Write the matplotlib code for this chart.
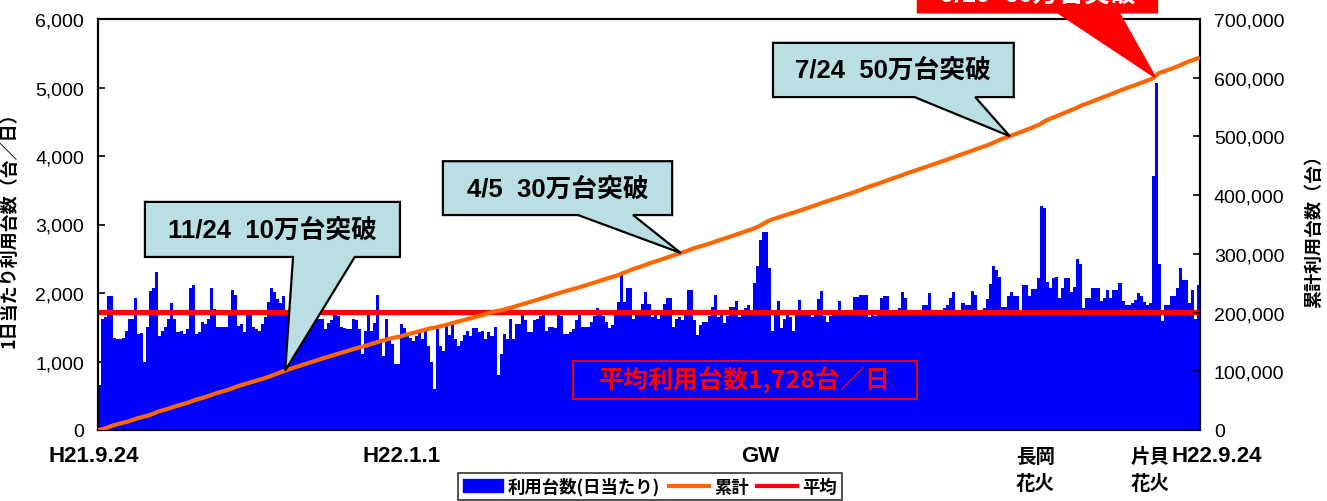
import numpy as np
import matplotlib
matplotlib.use("Agg")
import matplotlib.pyplot as plt
from matplotlib.patches import Polygon, Rectangle, Patch
from matplotlib.lines import Line2D
from matplotlib.ticker import FuncFormatter, MultipleLocator
from matplotlib.transforms import blended_transform_factory

# ---------------- data (daily bicycle usage, H21.9.24 -> H22.9.24) ----------------
seg_autumn = [657, 1620, 1650, 1960, 1960, 1350, 1330, 1330, 1350, 1450,
              1620, 1620, 1920, 1400, 1415, 1000, 1510, 2030, 2080, 2300,
              1370, 1450, 1510, 1620, 1850, 1620, 1435, 1450, 1400, 1475,
              2070, 2115, 1400, 1425, 1570, 1545, 1620, 2070, 1765, 1500,
              1510, 1510, 1510, 1740, 2050, 1970, 1520, 1545, 1425, 1690,
              1690, 1500, 1475, 1450, 1545, 1645, 1865, 2070, 2010, 1910,
              1850, 1950, 1700, 1650, 1600, 1750, 1680, 1620, 1700, 1650,
              1600, 1680, 1700,
              1620, 1620, 1475, 1560, 1600, 1690, 1670, 1500, 1485, 1475,
              1475, 1620, 1600, 1475, 1110, 1450, 1690, 1450, 1560, 1970,
              1300, 1075, 1620, 1330, 1255, 960, 960, 1545, 1485, 1380,
              1350, 1300, 1370, 1450, 1330, 1450, 1230, 990, 600, 1475,
              1230, 1160, 1545]
seg_spring = [1385, 1545, 1330, 1230, 1300, 1385, 1450,
              1370, 1485, 1485, 1435, 1450, 1330, 1425, 1370, 1510, 800,
              1110, 1400, 1330, 1620, 1330, 1545, 1545, 1690, 1600, 1425,
              1425, 1600, 1620, 1670, 1690, 1450, 1500, 1500, 1485,
              1690, 1670, 1400, 1400, 1425, 1475, 1600, 1690, 1500,
              1500, 1510, 1570, 1670, 1775, 1720, 1670, 1570, 1485,
              1530, 1710, 1865, 2290, 1865, 2080, 2080, 1620, 1720, 1720,
              1840, 2020, 1840, 1645, 1720, 1620, 1720, 1840, 1920,
              1920, 1500, 1620, 1645, 1600, 1720, 2040, 2040, 1600, 1385,
              1530, 1570, 1570, 1670, 1800, 1970, 1645, 1720, 1560, 1670,
              1800, 1800, 1890, 1645, 1690, 1775, 1825, 1720,
              2145, 2400, 2780, 2895, 2895, 2360,
              1450, 1690, 1890, 1485, 1620, 1740, 1645, 1450, 1720, 1900,
              1690, 1690, 1690, 1645, 1680, 1910, 2035, 1670, 1570, 1670,
              1710, 1710, 1890, 1690, 1690, 1690, 1720, 1935, 1935, 1970,
              1970, 1970, 1645, 1690, 1670, 1690, 1920, 1950, 1950, 1690,
              1690, 1720, 1775]
seg_summer = [2010, 1920, 1700, 1720, 1690, 1710, 1700, 1825, 1825, 2000,
              1700, 1690, 1710, 1700, 1775, 1825, 1920, 2010, 1710, 1700,
              1850, 1825, 1825, 2035, 1970, 1710, 1690, 1775, 1910, 2130,
              2390, 2340, 2230, 1800, 1800, 1960, 2010, 1960, 1960, 1750,
              2115, 2115, 1960, 2060, 2060, 2215,
              3270, 3240,
              2155, 2068, 2214, 2229, 1922, 2068, 2214, 2214, 2019, 2083,
              2496, 2423, 1776, 1922, 1922, 2068, 2068, 2068, 1888, 1922,
              2049, 1922, 2049, 2049, 2146, 1888, 1825, 1825, 1854, 1903,
              2000, 1951, 1873, 1825, 1854,
              3713, 5065, 2423,
              1596, 1825, 1825, 1951, 1951, 2068, 2360, 2195, 2195, 1854,
              2049, 1620, 2117]
daily = np.array(seg_autumn + seg_spring + seg_summer, dtype=float)
average = 1728

milestones = [100000, 300000, 500000, 600000]
milestone_texts = ["11/24  10万台突破", "4/5  30万台突破", "7/24  50万台突破", "9/10  60万台突破"]

x_labels = ["H21.9.24", "H22.1.1", "GW", "長岡", "片貝", "H22.9.24"]
x_label_days = [-2, 100, 219, 310, 348, 370]
second_line = {"長岡": "花火", "片貝": "花火"}

legend_labels = ["利用台数(日当たり)", "累計", "平均"]

# ---------------- styling ----------------
CJK = "Noto Sans CJK JP"
NARROW = ["Liberation Sans Narrow", "Liberation Sans", CJK]
plt.rcParams["font.family"] = ["Liberation Sans", CJK, "DejaVu Sans"]

BLUE = "#0000FF"
ORANGE = "#FF6600"
RED = "#FF0000"
CALLOUT = "#B9DFE3"

W, H = 1327, 502
fig = plt.figure(figsize=(W / 100, H / 100), dpi=100)
ax = fig.add_axes([98 / W, 1 - 431 / H, 1102 / W, 411 / H])
ax2 = ax.twinx()

n = len(daily)
days = np.arange(n)
cum = np.cumsum(daily)

ax.bar(days, daily, width=1.0, color=BLUE, linewidth=0, antialiased=False, zorder=2)
ax.axhline(average, color=RED, lw=3.8, zorder=3)

cum_x = np.concatenate([[-0.5], days + 0.5])
cum_y = np.concatenate([[0], cum])
ax2.plot(cum_x, cum_y, color=ORANGE, lw=3.0, zorder=4, solid_capstyle="butt")

ax.set_xlim(-0.5, n - 0.5)
ax.set_ylim(0, 6000)
ax2.set_ylim(0, 700000)
ax.set_xticks([])
ax.yaxis.set_major_locator(MultipleLocator(1000))
ax2.yaxis.set_major_locator(MultipleLocator(100000))
fmt = FuncFormatter(lambda v, p: f"{int(v):,}")
ax.yaxis.set_major_formatter(fmt)
ax2.yaxis.set_major_formatter(fmt)
for a in (ax, ax2):
    a.tick_params(axis="y", direction="in", length=5, width=1.2, labelsize=14, pad=10)
    for s in a.spines.values():
        s.set_linewidth(1.5)
        s.set_color("black")

ax.set_ylabel("1日当たり利用台数（台／日）", family=CJK, fontweight="bold", fontsize=13)
ax.yaxis.set_label_coords(-80 / 1102, 0.5)
ax2.set_ylabel("累計利用台数（台）", family=CJK, fontweight="bold", fontsize=13, rotation=90)
ax2.yaxis.set_label_coords(1 + 104 / 1102, (431 - 227) / 411)

# x labels
tr = blended_transform_factory(ax.transData, ax.transAxes)
for lab, d in zip(x_labels, x_label_days):
    is_cjk = lab in second_line
    fam = CJK if is_cjk else NARROW
    fs = 14 if is_cjk else 16
    ax.text(d, (431 - 457) / 411, lab, transform=tr, ha="center", va="center",
            family=fam, fontweight="bold", fontsize=fs, clip_on=False)
    if is_cjk:
        ax.text(d, (431 - 485) / 411, second_line[lab], transform=tr, ha="center",
                va="center", family=CJK, fontweight="bold", fontsize=14, clip_on=False)

# average text box
ax2.add_patch(Rectangle((0.431, 0.0755), 0.312, 0.0925, transform=ax2.transAxes,
                        fill=False, edgecolor=RED, lw=1.3, zorder=6))
ax2.text(0.587, 0.122, f"平均利用台数{average:,}台／日", transform=ax2.transAxes,
         ha="center", va="center", color=RED, family=CJK, fontweight="bold",
         fontsize=18, zorder=7)

# callouts
boxes = [(0.0426, 0.274, 0.421, 0.555), (0.313, 0.521, 0.523, 0.654),
         (0.6125, 0.831, 0.810, 0.942), (0.744, 0.961, 1.016, 1.20)]
bases = [(0.177, 0.233), (0.4356, 0.4855), (0.741, 0.796), (0.871, 0.926)]
faces = [CALLOUT, CALLOUT, CALLOUT, RED]
edges = ["black", "black", "black", RED]
tcolors = ["black", "black", "black", "white"]
text_y = [None, None, None, 1.062]

inv = ax2.transAxes.inverted()
for m, txt, box, base, fc, ec, tc, ty in zip(milestones, milestone_texts, boxes, bases,
                                             faces, edges, tcolors, text_y):
    idx = int(np.argmax(cum >= m))
    tip = inv.transform(ax2.transData.transform((idx + 0.5, cum[idx])))
    x0, x1, y0, y1 = box
    pts = [(x0, y0), (base[0], y0), tuple(tip), (base[1], y0), (x1, y0), (x1, y1), (x0, y1)]
    ax2.add_patch(Polygon(pts, closed=True, transform=ax2.transAxes, facecolor=fc,
                          edgecolor=ec, lw=1.6, zorder=20, clip_on=False))
    cy = (y0 + y1) / 2 if ty is None else ty
    ax2.text((x0 + x1) / 2, cy, txt, transform=ax2.transAxes, ha="center", va="center",
             color=tc, family=NARROW, fontweight="bold", fontsize=18.5, zorder=21,
             clip_on=False)

# legend
handles = [Patch(facecolor=BLUE, edgecolor=BLUE),
           Line2D([], [], color=ORANGE, lw=3),
           Line2D([], [], color=RED, lw=3)]
leg = fig.legend(handles, legend_labels, loc="upper center", ncol=3,
                 bbox_to_anchor=(650 / W, 1 - 474 / H), frameon=True, fancybox=False,
                 edgecolor="black", prop={"family": CJK, "weight": "bold", "size": 12.5},
                 handlelength=2.3, handleheight=0.8, handletextpad=0.3,
                 columnspacing=0.5, borderpad=0.25, borderaxespad=0)
leg.get_frame().set_linewidth(1.2)

fig.savefig("out.png", dpi=100)
print(n, cum[-1])
